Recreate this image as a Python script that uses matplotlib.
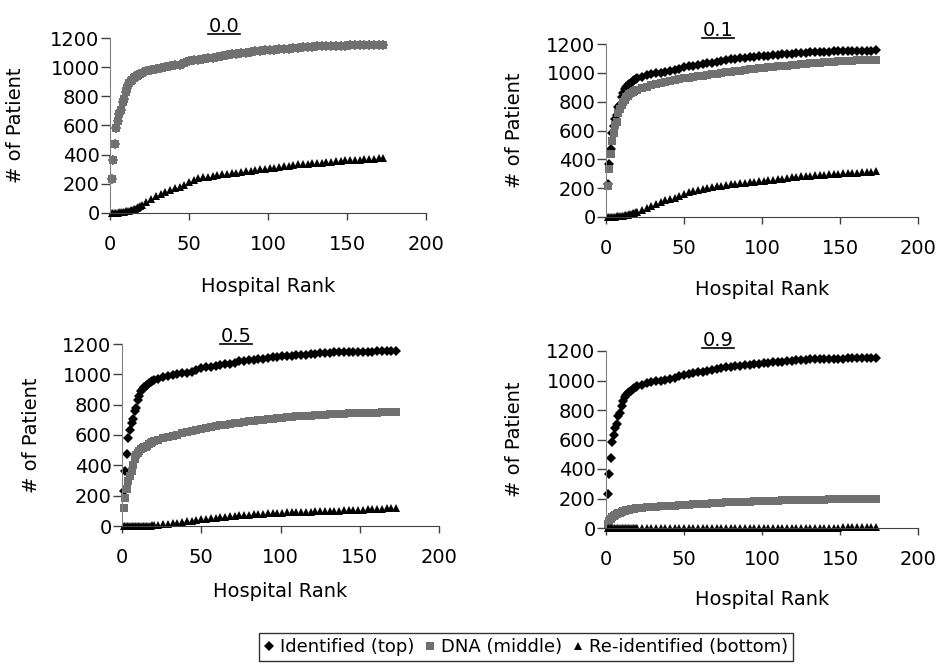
import matplotlib
matplotlib.use("Agg")
import matplotlib.pyplot as plt
from matplotlib.lines import Line2D

plt.rcParams["font.family"] = ["DejaVu Sans"]

# hospital ranks: every rank up to 20, then every third rank
ranks = list(range(1, 21)) + list(range(23, 176, 3))

# identified patients (same curve in all four panels)
identified = [230, 365, 475, 580, 630, 680, 705, 760, 780, 830,
              860, 890, 905, 915, 925, 932, 940, 948, 955, 962,
              972, 982, 990, 996, 1000, 1006, 1012, 1018, 1030, 1040,
              1046, 1050, 1056, 1060, 1065, 1070, 1078, 1085, 1090, 1093,
              1097, 1100, 1104, 1108, 1112, 1115, 1118, 1120, 1123, 1126,
              1128, 1130, 1133, 1136, 1139, 1141, 1143, 1144, 1145, 1146,
              1147, 1148, 1148, 1149, 1150, 1150, 1151, 1152, 1153, 1154,
              1155]

# DNA (middle) per threshold
dna_00 = list(identified)
dna_01 = [215, 335, 435, 525, 580, 640, 660, 720, 750, 780,
          800, 815, 830, 840, 850, 858, 865, 872, 878, 884,
          895, 905, 915, 922, 930, 936, 942, 948, 955, 962,
          967, 972, 976, 980, 985, 990, 995, 1000, 1004, 1008,
          1012, 1016, 1020, 1024, 1028, 1032, 1035, 1038, 1041, 1044,
          1047, 1050, 1053, 1056, 1059, 1062, 1065, 1068, 1071, 1074,
          1076, 1078, 1080, 1082, 1084, 1085, 1086, 1087, 1088, 1089,
          1090]
dna_05 = [120, 185, 245, 300, 330, 360, 400, 440, 465, 480,
          495, 505, 512, 518, 523, 530, 538, 545, 552, 558,
          568, 578, 588, 595, 602, 610, 618, 626, 634, 642,
          648, 654, 659, 664, 668, 672, 676, 680, 685, 690,
          694, 697, 700, 704, 708, 711, 714, 717, 720, 722,
          724, 726, 728, 730, 732, 734, 736, 738, 740, 741,
          742, 743, 744, 745, 746, 747, 748, 749, 749, 750,
          750]
dna_09 = [30, 50, 62, 72, 80, 88, 95, 100, 105, 110,
          113, 116, 119, 122, 125, 127, 129, 131, 133, 135,
          138, 140, 142, 144, 146, 148, 150, 152, 154, 156,
          158, 160, 162, 164, 166, 168, 170, 172, 173, 174,
          176, 177, 178, 179, 180, 182, 183, 184, 185, 186,
          187, 188, 188, 189, 190, 190, 191, 192, 193, 193,
          194, 194, 195, 196, 196, 197, 197, 198, 198, 199,
          200]

# re-identified (bottom) per threshold
reid_00 = [0, 0, 1, 2, 3, 4, 5, 7, 9, 11,
           13, 15, 18, 22, 26, 30, 35, 42, 50, 58,
           75, 95, 115, 130, 145, 160, 170, 180, 195, 210,
           228, 238, 245, 250, 255, 260, 265, 268, 272, 276,
           280, 285, 290, 295, 300, 305, 308, 310, 315, 320,
           325, 330, 333, 336, 338, 340, 343, 346, 349, 352,
           355, 358, 360, 362, 364, 366, 368, 370, 372, 374,
           376]
reid_01 = [0, 0, 0, 1, 2, 3, 4, 5, 6, 8,
           10, 12, 14, 16, 19, 22, 25, 29, 33, 38,
           48, 60, 75, 90, 105, 115, 125, 135, 145, 158,
           170, 180, 190, 197, 203, 208, 213, 218, 222, 226,
           230, 234, 238, 242, 246, 250, 253, 256, 259, 263,
           267, 271, 275, 278, 281, 284, 287, 290, 292, 294,
           296, 298, 300, 302, 304, 306, 308, 310, 312, 314,
           316]
reid_05 = [0, 0, 0, 0, 0, 0, 0, 0, 0, 0,
           1, 1, 1, 2, 2, 2, 3, 3, 4, 5,
           7, 10, 14, 18, 22, 26, 30, 34, 38, 43,
           47, 51, 55, 59, 62, 65, 68, 71, 73, 75,
           77, 79, 81, 83, 85, 87, 89, 90, 91, 92,
           93, 94, 95, 96, 98, 99, 100, 101, 102, 104,
           105, 106, 107, 108, 109, 110, 112, 114, 116, 118,
           120]
reid_09 = [0, 0, 0, 0, 0, 0, 0, 0, 0, 0,
           0, 0, 0, 0, 0, 0, 0, 0, 0, 0,
           0, 0, 0, 0, 0, 0, 1, 1, 1, 1,
           1, 1, 1, 1, 1, 1, 1, 2, 2, 2,
           2, 2, 2, 2, 2, 2, 2, 2, 3, 3,
           3, 3, 3, 3, 3, 3, 3, 3, 3, 3,
           3, 3, 3, 4, 4, 4, 4, 4, 4, 4,
           4]

titles = ["0.0", "0.1", "0.5", "0.9"]
dna_sets = [dna_00, dna_01, dna_05, dna_09]
reid_sets = [reid_00, reid_01, reid_05, reid_09]

# axes boxes in pixels: (left, right, y of 0, y of 1200)
boxes = [(110, 426, 213, 38), (606, 918, 217, 44),
         (122, 439, 526, 344), (606, 918, 528, 351)]
title_pos = [(224, 26), (718, 30), (236, 336), (718, 340)]
xlabel_y = [-0.366, -0.364, -0.31, -0.35]
ylabel_x = [-0.268, -0.262, -0.257, -0.262]

W, H = 939, 665
GRAY = "#707070"
MS = 5.2
FS = 14

fig = plt.figure(figsize=(W / 100, H / 100), dpi=100)

for i in range(4):
    x0, x1, yb, yt = boxes[i]
    ax = fig.add_axes([x0 / W, 1 - yb / H, (x1 - x0) / W, (yb - yt) / H])
    ax.plot(ranks, identified, linestyle="none", marker="D", markersize=MS,
            color="black", markeredgewidth=0, clip_on=False)
    ax.plot(ranks, dna_sets[i], linestyle="none", marker="s", markersize=MS,
            color=GRAY, markeredgewidth=0, clip_on=False)
    ax.plot(ranks, reid_sets[i], linestyle="none", marker="^", markersize=MS + 1,
            color="black", markeredgewidth=0, clip_on=False)

    ax.set_xlim(0, 200)
    ax.set_ylim(0, 1200)
    ax.set_xticks([0, 50, 100, 150, 200])
    ax.set_yticks([0, 200, 400, 600, 800, 1000, 1200])
    for s in ["top", "right"]:
        ax.spines[s].set_visible(False)
    ax.spines["left"].set_color("#808080")
    ax.spines["bottom"].set_color("#404040")
    ax.tick_params(axis="x", direction="out", length=5, width=1,
                   color="#404040", pad=11, labelsize=FS)
    ax.tick_params(axis="y", direction="out", length=6.5, width=1,
                   color="#404040", pad=1, labelsize=FS)
    ax.set_xlabel("Hospital Rank", fontsize=FS)
    ax.set_ylabel("# of Patient", fontsize=FS)
    ax.xaxis.set_label_coords(0.5, xlabel_y[i])
    ax.yaxis.set_label_coords(ylabel_x[i], 0.5)

    tx, ty = title_pos[i]
    fig.text(tx / W, 1 - ty / H, titles[i], ha="center", va="center",
             fontsize=FS)
    fig.add_artist(Line2D([(tx - 16) / W, (tx + 16) / W],
                          [1 - (ty + 8) / H, 1 - (ty + 8) / H],
                          color="black", linewidth=1.2))

handles = [
    Line2D([], [], linestyle="none", marker="D", markersize=MS,
           color="black", markeredgewidth=0),
    Line2D([], [], linestyle="none", marker="s", markersize=MS,
           color=GRAY, markeredgewidth=0),
    Line2D([], [], linestyle="none", marker="^", markersize=MS + 1,
           color="black", markeredgewidth=0),
]
labels = ["Identified (top)", "DNA (middle)", "Re-identified (bottom)"]
leg = fig.legend(handles, labels, loc="center", bbox_to_anchor=(0.56, 1 - 647 / H),
                 ncol=3, fontsize=13, frameon=True, fancybox=False,
                 handlelength=0.6, handletextpad=0.3, columnspacing=0.6,
                 borderpad=0.25, borderaxespad=0)
leg.get_frame().set_edgecolor("black")
leg.get_frame().set_linewidth(1)

fig.savefig("out.png", dpi=100)
